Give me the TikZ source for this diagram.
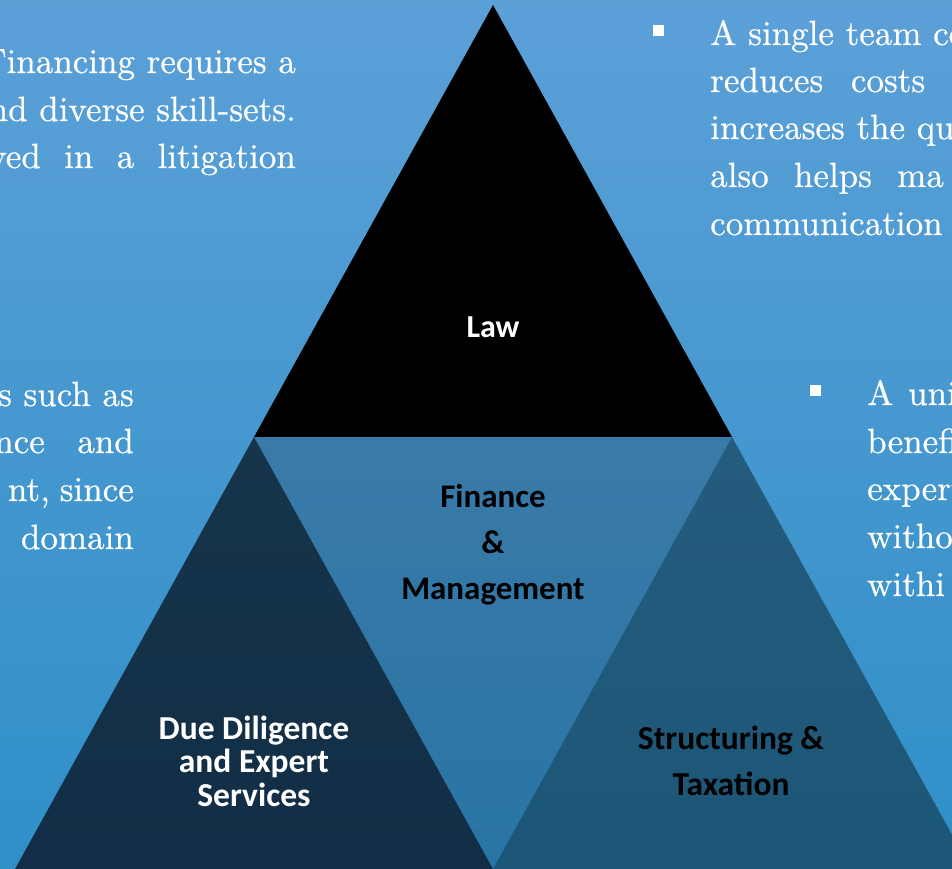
\documentclass[tikz,border=0pt]{standalone}
\usepackage{fontspec}
\newfontfamily\lab{Carlito}
\newfontfamily\bodyfont{lmroman10-regular.otf}[FakeBold=0.6]
\definecolor{bgtop}{HTML}{5CA0D8}
\definecolor{bgbot}{HTML}{2F8FC7}
\definecolor{midtop}{HTML}{3A7AA8}
\definecolor{midbot}{HTML}{2875A5}
\definecolor{lefttop}{HTML}{16344A}
\definecolor{leftbot}{HTML}{112E46}
\definecolor{righttop}{HTML}{255C7D}
\definecolor{rightbot}{HTML}{1C5677}
\tikzset{
  body/.style={text=white,inner sep=0pt,font=\bodyfont\fontsize{35}{47.5}\selectfont},
  lbl/.style={inner sep=0pt,align=center,font=\lab\bfseries\fontsize{32}{46}\selectfont},
  bul/.style={fill=white}
}
\begin{document}
\begin{tikzpicture}[x=1pt,y=-1pt]
\useasboundingbox (0,0) rectangle (952,869);
\begin{scope}
\clip (0,0) rectangle (952,869);
\shade[top color=bgtop,bottom color=bgbot] (0,0) rectangle (952,869);
% triangles
\coordinate (apex) at (493,5);
\coordinate (bl) at (254,437);
\coordinate (br) at (732,437);
\coordinate (bm) at (493,869);
\coordinate (ll) at (15,869);
\coordinate (rr) at (971,869);
\fill[black] (apex) -- (br) -- (bl) -- cycle;
\shade[top color=midtop,bottom color=midbot] (bl) -- (br) -- (bm) -- cycle;
\shade[top color=lefttop,bottom color=leftbot] (bl) -- (bm) -- (ll) -- cycle;
\shade[top color=righttop,bottom color=rightbot] (br) -- (rr) -- (bm) -- cycle;
% labels
\node[lbl,text=white] (law) at (493,327) {Law};
\node[lbl,text=black,font=\lab\bfseries\fontsize{33}{46}\selectfont] (fin) at (493,545) {Finance\\\&\\Management};
\node[lbl,text=white,font=\lab\bfseries\fontsize{33.5}{33.5}\selectfont] (dd) at (254,761) {Due Diligence\\and Expert\\Services};
\node[lbl,text=black,font=\lab\bfseries\fontsize{33.5}{46}\selectfont] (st) at (731,761) {Structuring \&\\Taxation};
% top left text
\node[body,anchor=base east] (tl1) at (296,73) {Financing requires a};
\node[body,anchor=base east] (tl2) at (296,121) {nd diverse skill-sets.};
\node[body,anchor=base east] (tl3) at (296,168) {\makebox[255pt][s]{\llap{ved} in a litigation}};
% top right text
\fill[bul] (653,25) rectangle (664,36);
\node[body,anchor=base west] (tr1) at (710,45) {\makebox[223pt][s]{A single team \rlap{co}}};
\node[body,anchor=base west] (tr2) at (710,92) {\makebox[215pt][s]{reduces costs}};
\node[body,anchor=base west] (tr3) at (710,139) {increases the qu};
\node[body,anchor=base west] (tr4) at (710,187) {\makebox[187pt][s]{also helps \rlap{ma}}};
\node[body,anchor=base west] (tr5) at (710,235) {communication};
% left middle text
\node[body,anchor=base east] (lm1) at (134,406) {s such as};
\node[body,anchor=base east] (lm2) at (134,453) {\makebox[89pt][s]{\llap{nce} and}};
\node[body,anchor=base east] (lm3) at (134,501) {\makebox[84pt][s]{\llap{nt,} since}};
\node[body,anchor=base east] (lm4) at (134,549) {domain};
% right middle text
\fill[bul] (810,385) rectangle (821,396);
\node[body,anchor=base west] (rm1) at (867,405) {\makebox[41pt][s]{A \rlap{uni}}};
\node[body,anchor=base west] (rm2) at (867,453) {benefi};
\node[body,anchor=base west] (rm3) at (867,500) {expert};
\node[body,anchor=base west] (rm4) at (867,548) {witho};
\node[body,anchor=base west] (rm5) at (867,596) {withi};
\end{scope}
\end{tikzpicture}
\end{document}
